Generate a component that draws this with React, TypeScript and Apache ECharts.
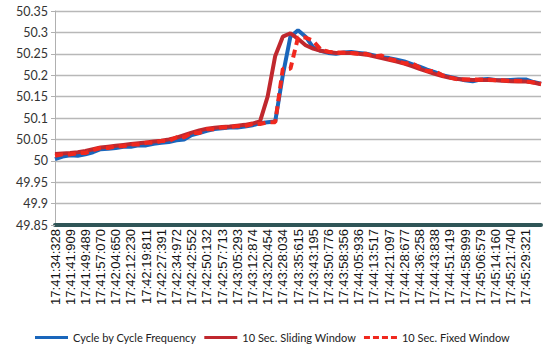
import React, { useEffect, useRef } from "react";
import * as echarts from "echarts";

const categories = [
  "17:41:34:328", "17:41:38:118", "17:41:41:909", "17:41:45:699", "17:41:49:489", "17:41:53:279",
  "17:41:57:070", "17:42:00:860", "17:42:04:650", "17:42:08:440", "17:42:12:230", "17:42:16:020",
  "17:42:19:811", "17:42:23:601", "17:42:27:391", "17:42:31:181", "17:42:34:972", "17:42:38:762",
  "17:42:42:552", "17:42:46:342", "17:42:50:132", "17:42:53:922", "17:42:57:713", "17:43:01:503",
  "17:43:05:293", "17:43:09:083", "17:43:12:874", "17:43:16:664", "17:43:20:454", "17:43:24:244",
  "17:43:28:034", "17:43:31:824", "17:43:35:615", "17:43:39:405", "17:43:43:195", "17:43:46:985",
  "17:43:50:776", "17:43:54:566", "17:43:58:356", "17:44:02:146", "17:44:05:936", "17:44:09:726",
  "17:44:13:517", "17:44:17:307", "17:44:21:097", "17:44:24:887", "17:44:28:677", "17:44:32:467",
  "17:44:36:258", "17:44:40:048", "17:44:43:838", "17:44:47:628", "17:44:51:419", "17:44:55:209",
  "17:44:58:999", "17:45:02:789", "17:45:06:579", "17:45:10:369", "17:45:14:160", "17:45:17:950",
  "17:45:21:740", "17:45:25:530", "17:45:29:321", "17:45:33:111", "17:45:36:901",
];

const cycleByCycle = [
  50.004, 50.01, 50.013, 50.012, 50.015, 50.02, 50.027, 50.028, 50.03, 50.033,
  50.033, 50.036, 50.036, 50.04, 50.042, 50.044, 50.048, 50.05, 50.06, 50.065,
  50.07, 50.074, 50.076, 50.078, 50.078, 50.08, 50.083, 50.088, 50.09, 50.092,
  50.2, 50.29, 50.305, 50.29, 50.265, 50.257, 50.252, 50.25, 50.253, 50.254,
  50.252, 50.25, 50.246, 50.242, 50.24, 50.236, 50.232, 50.226, 50.22, 50.213,
  50.207, 50.2, 50.196, 50.192, 50.188, 50.186, 50.19, 50.191, 50.189, 50.188,
  50.189, 50.19, 50.19, 50.184, 50.18,
];

const slidingWindow = [
  50.016, 50.017, 50.018, 50.02, 50.023, 50.027, 50.031, 50.033, 50.035, 50.037,
  50.039, 50.041, 50.043, 50.045, 50.047, 50.05, 50.054, 50.06, 50.066, 50.071,
  50.075, 50.077, 50.079, 50.08, 50.082, 50.084, 50.087, 50.092, 50.15, 50.245,
  50.29, 50.298, 50.285, 50.27, 50.262, 50.257, 50.254, 50.252, 50.252, 50.252,
  50.25, 50.248, 50.244, 50.24, 50.236, 50.232, 50.227, 50.221, 50.215, 50.209,
  50.203, 50.198, 50.194, 50.191, 50.19, 50.189, 50.189, 50.189, 50.188, 50.187,
  50.186, 50.185, 50.185, 50.183, 50.179,
];

const fixedWindow = [
  50.012, 50.015, 50.015, 50.018, 50.018, 50.025, 50.03, 50.03, 50.034, 50.034,
  50.038, 50.038, 50.042, 50.042, 50.046, 50.046, 50.055, 50.055, 50.065, 50.065,
  50.074, 50.074, 50.078, 50.078, 50.081, 50.081, 50.086, 50.086, 50.09, 50.09,
  50.215, 50.215, 50.288, 50.288, 50.28, 50.26, 50.255, 50.253, 50.253, 50.252,
  50.25, 50.25, 50.244, 50.246, 50.238, 50.234, 50.228, 50.228, 50.218, 50.21,
  50.21, 50.2, 50.195, 50.19, 50.19, 50.19, 50.19, 50.19, 50.188, 50.188,
  50.187, 50.187, 50.186, 50.183, 50.18,
];

const seriesNames = ["Cycle by Cycle Frequency", "10 Sec. Sliding Window", "10 Sec. Fixed Window"];

const solidIcon = "path://M0,0h33v3h-33z";
const dashedIcon = "path://M0,0h6v3h-6z M9,0h6v3h-6z M18,0h6v3h-6z M27,0h6v3h-6z";

export default function App() {
  const ref = useRef<HTMLDivElement>(null);
  useEffect(() => {
    if (!ref.current) return;
    const chart = echarts.init(ref.current, undefined, { renderer: "svg" });
    chart.setOption({
      animation: false,
      backgroundColor: "#ffffff",
      grid: { left: 55, right: 9, top: 11, bottom: 126, containLabel: false },
      legend: {
        bottom: 3,
        left: 30,
        width: 520,
        itemWidth: 33,
        itemHeight: 3,
        itemGap: 8,
        textStyle: { fontFamily: "Lato", fontSize: 11, color: "#222" },
        data: [
          { name: seriesNames[0], icon: solidIcon },
          { name: seriesNames[1], icon: solidIcon },
          { name: seriesNames[2], icon: dashedIcon },
        ],
      },
      xAxis: {
        type: "category",
        data: categories,
        boundaryGap: false,
        axisLine: { show: true, lineStyle: { color: "#2f5557", width: 4 } },
        axisTick: { show: false },
        axisLabel: {
          rotate: 90,
          interval: (idx: number) => idx % 2 === 0 && idx < categories.length - 1,
          fontFamily: "Liberation Sans",
          fontSize: 13,
          color: "#111",
          margin: 4,
        },
        splitLine: { show: false },
      },
      yAxis: {
        type: "value",
        min: 49.85,
        max: 50.35,
        interval: 0.05,
        axisLine: { show: true, lineStyle: { color: "#b0b0b0", width: 1 } },
        axisTick: { show: true, length: 4, lineStyle: { color: "#b0b0b0" } },
        axisLabel: {
          fontFamily: "Lato",
          fontSize: 12.5,
          color: "#333",
          margin: 7,
          formatter: (v: number) => String(parseFloat(v.toFixed(2))),
        },
        splitLine: { show: true, lineStyle: { color: "#b8b8b8", width: 1.3 } },
      },
      series: [
        {
          name: seriesNames[0],
          type: "line",
          data: cycleByCycle,
          symbol: "none",
          lineStyle: { color: "#1a66bb", width: 4 },
          itemStyle: { color: "#1a66bb" },
          z: 2,
        },
        {
          name: seriesNames[1],
          type: "line",
          data: slidingWindow,
          symbol: "none",
          lineStyle: { color: "#c0282e", width: 4 },
          itemStyle: { color: "#c0282e" },
          z: 3,
        },
        {
          name: seriesNames[2],
          type: "line",
          data: fixedWindow,
          symbol: "none",
          lineStyle: { color: "#f0281e", width: 4, type: [8, 5] },
          itemStyle: { color: "#f0281e" },
          z: 4,
        },
      ],
    });
    return () => chart.dispose();
  }, []);
  return <div ref={ref} style={{ width: 550, height: 351, position: "absolute", left: 0, top: 0 }} />;
}
